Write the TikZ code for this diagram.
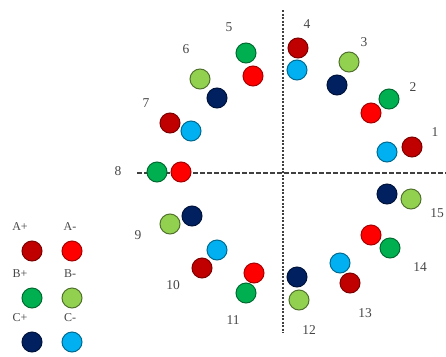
\documentclass[tikz,border=0pt]{standalone}
\usepackage{fontspec}
\setmainfont{Liberation Serif}
\definecolor{wdAp}{RGB}{192,0,0}
\definecolor{wdAm}{RGB}{255,0,0}
\definecolor{wdBp}{RGB}{0,176,80}
\definecolor{wdBm}{RGB}{146,208,80}
\definecolor{wdCp}{RGB}{0,32,96}
\definecolor{wdCm}{RGB}{0,176,240}
\definecolor{wdtext}{RGB}{70,70,70}

\begin{document}
\begin{tikzpicture}[x=1pt,y=-1pt,
  pole/.style={circle,minimum size=20pt,inner sep=0pt,line width=1pt},
  aplus/.style={pole,fill=wdAp,draw=wdAp!65!black},
  aminus/.style={pole,fill=wdAm,draw=wdAm!65!black},
  bplus/.style={pole,fill=wdBp,draw=wdBp!60!black},
  bminus/.style={pole,fill=wdBm,draw=wdBm!55!black},
  cplus/.style={pole,fill=wdCp,draw=wdCp!60!black},
  cminus/.style={pole,fill=wdCm,draw=wdCm!60!black},
  slotnum/.style={font=\fontsize{13.5}{15}\selectfont,text=wdtext,inner sep=0pt},
  legtext/.style={font=\fontsize{12}{14}\selectfont,text=wdtext,inner sep=0pt},
  axis/.style={line width=1.2pt,draw=black!75}]
  \useasboundingbox (0,0) rectangle (446,356);
  % Axes
  \coordinate (vtop) at (283,10);
  \coordinate (vbot) at (283,333);
  \coordinate (hleft) at (137,173);
  \coordinate (hright) at (446,173);
  \draw[axis,dash pattern=on 2pt off 1.5pt] (vtop) -- (vbot);
  \draw[axis,dash pattern=on 4.5pt off 2.5pt] (hleft) -- (hright);
  % Slots 1-4
  \node[aplus] (s1a) at (412,147) {};
  \node[cminus] (s1c) at (387,152) {};
  \node[slotnum] (n1) at (435,132) {1};
  \node[bplus] (s2b) at (389,99) {};
  \node[aminus] (s2a) at (371,113) {};
  \node[slotnum] (n2) at (413,87) {2};
  \node[bminus] (s3b) at (349,62) {};
  \node[cplus] (s3c) at (337,85) {};
  \node[slotnum] (n3) at (364,42) {3};
  \node[aplus] (s4a) at (298,48) {};
  \node[cminus] (s4c) at (297,70) {};
  \node[slotnum] (n4) at (307,24) {4};
  % Slots 5-8
  \node[bplus] (s5b) at (246,53) {};
  \node[aminus] (s5a) at (253,76) {};
  \node[slotnum] (n5) at (229,27) {5};
  \node[bminus] (s6b) at (200,79) {};
  \node[cplus] (s6c) at (217,98) {};
  \node[slotnum] (n6) at (186,49) {6};
  \node[aplus] (s7a) at (170,123) {};
  \node[cminus] (s7c) at (191,131) {};
  \node[slotnum] (n7) at (146,103) {7};
  \node[bplus] (s8b) at (157,172) {};
  \node[aminus] (s8a) at (181,172) {};
  \node[slotnum] (n8) at (118,171) {8};
  % Slots 9-12
  \node[bminus] (s9b) at (170,224) {};
  \node[cplus] (s9c) at (192,216) {};
  \node[slotnum] (n9) at (138,235) {9};
  \node[cminus] (s10c) at (217,250) {};
  \node[aplus] (s10a) at (202,268) {};
  \node[slotnum] (n10) at (173,285) {10};
  \node[aminus] (s11a) at (254,273) {};
  \node[bplus] (s11b) at (246,293) {};
  \node[slotnum] (n11) at (233,320) {11};
  \node[cplus] (s12c) at (297,277) {};
  \node[bminus] (s12b) at (299,300) {};
  \node[slotnum] (n12) at (309,330) {12};
  % Slots 13-15
  \node[cminus] (s13c) at (340,263) {};
  \node[aplus] (s13a) at (350,283) {};
  \node[slotnum] (n13) at (365,313) {13};
  \node[aminus] (s14a) at (371,235) {};
  \node[bplus] (s14b) at (390,248) {};
  \node[slotnum] (n14) at (420,267) {14};
  \node[cplus] (s15c) at (387,194) {};
  \node[bminus] (s15b) at (411,199) {};
  \node[slotnum] (n15) at (437,213) {15};
  % Legend
  \node[aplus] (lap) at (32,251) {};
  \node[aminus] (lam) at (72,251) {};
  \node[bplus] (lbp) at (32,298) {};
  \node[bminus] (lbm) at (72,298) {};
  \node[cplus] (lcp) at (32,342) {};
  \node[cminus] (lcm) at (72,342) {};
  \node[legtext] (tap) at (20,227) {A+};
  \node[legtext] (tam) at (70,227) {A-};
  \node[legtext] (tbp) at (20,274) {B+};
  \node[legtext] (tbm) at (70,274) {B-};
  \node[legtext] (tcp) at (20,318) {C+};
  \node[legtext] (tcm) at (70,318) {C-};
\end{tikzpicture}
\end{document}
